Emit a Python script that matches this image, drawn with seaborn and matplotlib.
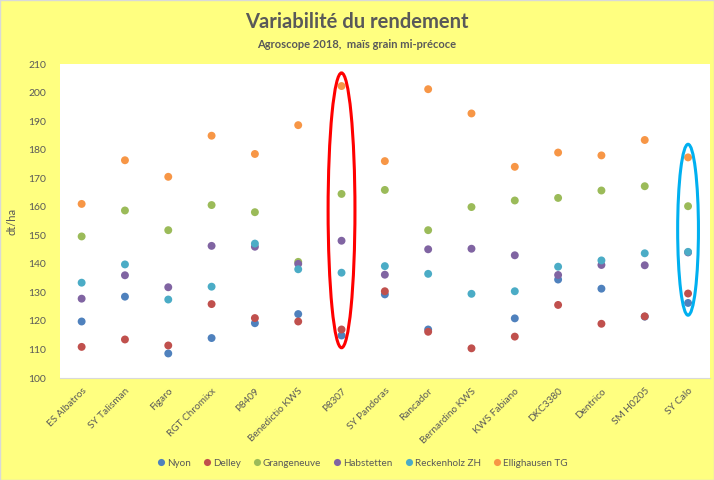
import numpy as np
import pandas as pd
import matplotlib
matplotlib.use("Agg")
import matplotlib.pyplot as plt
from matplotlib.patches import Ellipse
import seaborn as sns

# ============================================================
# DATEN
# ============================================================
sorten = ['ES Albatros', 'SY Talisman', 'Figaro', 'RGT Chromixx', 'P8409',
          'Benedictio KWS', 'P8307', 'SY Pandoras', 'Rancador', 'Bernardino KWS',
          'KWS Fabiano', 'DKC3380', 'Dentrico', 'SM H0205', 'SY Calo']

nyon = [119.8, 128.5, 108.6, 114.0, 119.2, 122.4, 114.9, 129.3, 117.0, np.nan,
        120.9, 134.5, 131.3, 121.5, 126.3]
delley = [110.9, 113.5, 111.4, 125.9, 121.0, 119.8, 117.0, 130.4, 116.2, 110.4,
          114.5, 125.6, 119.0, 121.6, 129.6]
grangeneuve = [149.6, 158.7, 151.8, 160.6, 158.1, 140.7, 164.5, 165.9, 151.8, 159.9,
               162.2, 163.1, 165.7, 167.2, 160.2]
habstetten = [127.8, 136.0, 131.8, 146.3, 146.0, 140.0, 148.1, 136.2, 145.1, 145.3,
              143.0, 136.1, 139.6, 139.5, 144.0]
reckenholz = [133.4, 139.8, 127.5, 132.0, 147.1, 138.1, 136.9, 139.2, 136.5, 129.5,
              130.4, 139.0, 141.2, 143.7, 144.2]
ellighausen = [161.0, 176.3, 170.5, 184.9, 178.5, 188.6, 202.3, 176.0, 201.2, 192.7,
               174.0, 179.0, 178.0, 183.4, 177.3]

standorte = ['Nyon', 'Delley', 'Grangeneuve', 'Habstetten', 'Reckenholz ZH', 'Ellighausen TG']
farben = ['#4F81BD', '#C0504D', '#9BBB59', '#8064A2', '#4BACC6', '#F79646']

markiert = {'P8307': '#FF0000', 'SY Calo': '#00B0F0'}

werte = [nyon, delley, grangeneuve, habstetten, reckenholz, ellighausen]
df = pd.DataFrame({
    'sorte': np.tile(sorten, len(standorte)),
    'standort': np.repeat(standorte, len(sorten)),
    'ertrag': np.concatenate(werte),
}).dropna()

# ============================================================
# PLOT
# ============================================================
sns.set_style("white")
plt.rcParams['font.family'] = ['Lato', 'DejaVu Sans']
grau = '#595959'
gelb = '#FFFF80'

fig = plt.figure(figsize=(7.14, 4.8), dpi=100, facecolor=gelb)
ax = fig.add_axes([0.084, 0.2125, 0.91, 0.654])

sns.stripplot(data=df, x='sorte', y='ertrag', hue='standort', order=sorten,
              hue_order=standorte, palette=farben, jitter=False, dodge=False,
              size=5.7, linewidth=0, ax=ax, zorder=3)

# Ellipsen um markierte Sorten
for sorte, farbe in markiert.items():
    i = sorten.index(sorte)
    sub = df[df['sorte'] == sorte]['ertrag']
    lo, hi = sub.min() - 4.3, sub.max() + 4.6
    breite = 0.62 if farbe == '#FF0000' else 0.48
    ax.add_patch(Ellipse((i, (lo + hi) / 2), breite, hi - lo, fill=False,
                         edgecolor=farbe, linewidth=2.2, zorder=4))

ax.set_xlim(-0.5, len(sorten) - 0.5)
ax.set_ylim(100, 210)
ax.set_yticks(range(100, 211, 10))
ax.set_xlabel('')
ax.set_ylabel('dt/ha', color=grau, fontsize=8, labelpad=8)
ax.tick_params(axis='y', colors=grau, labelsize=7.5, length=0, pad=10)
ax.tick_params(axis='x', colors=grau, labelsize=7.2, length=0, pad=6)
plt.setp(ax.get_xticklabels(), rotation=45, ha='right', rotation_mode='anchor')

for s in ['top', 'left', 'right']:
    ax.spines[s].set_visible(False)
ax.spines['bottom'].set_color('#D9D9D9')

fig.text(0.5, 0.955, 'Variabilité du rendement', ha='center', va='center',
         fontsize=14.5, fontweight='bold', color=grau)
fig.text(0.5, 0.908, 'Agroscope 2018,  maïs grain mi-précoce', ha='center', va='center',
         fontsize=8, fontweight='bold', color=grau)

handles, labels = ax.get_legend_handles_labels()
ax.legend(handles, labels, loc='center', bbox_to_anchor=(0.508, 0.035),
          bbox_transform=fig.transFigure, ncol=6, frameon=False, fontsize=7.1,
          handlelength=0.6, handletextpad=0.3, columnspacing=1.35, markerscale=0.9,
          labelcolor=grau)

fig.patches.append(plt.Rectangle((0, 0), 1, 1, transform=fig.transFigure,
                                 fill=False, edgecolor='#D9D9D9', linewidth=1))

plt.savefig('out.png', dpi=100, facecolor=gelb)
